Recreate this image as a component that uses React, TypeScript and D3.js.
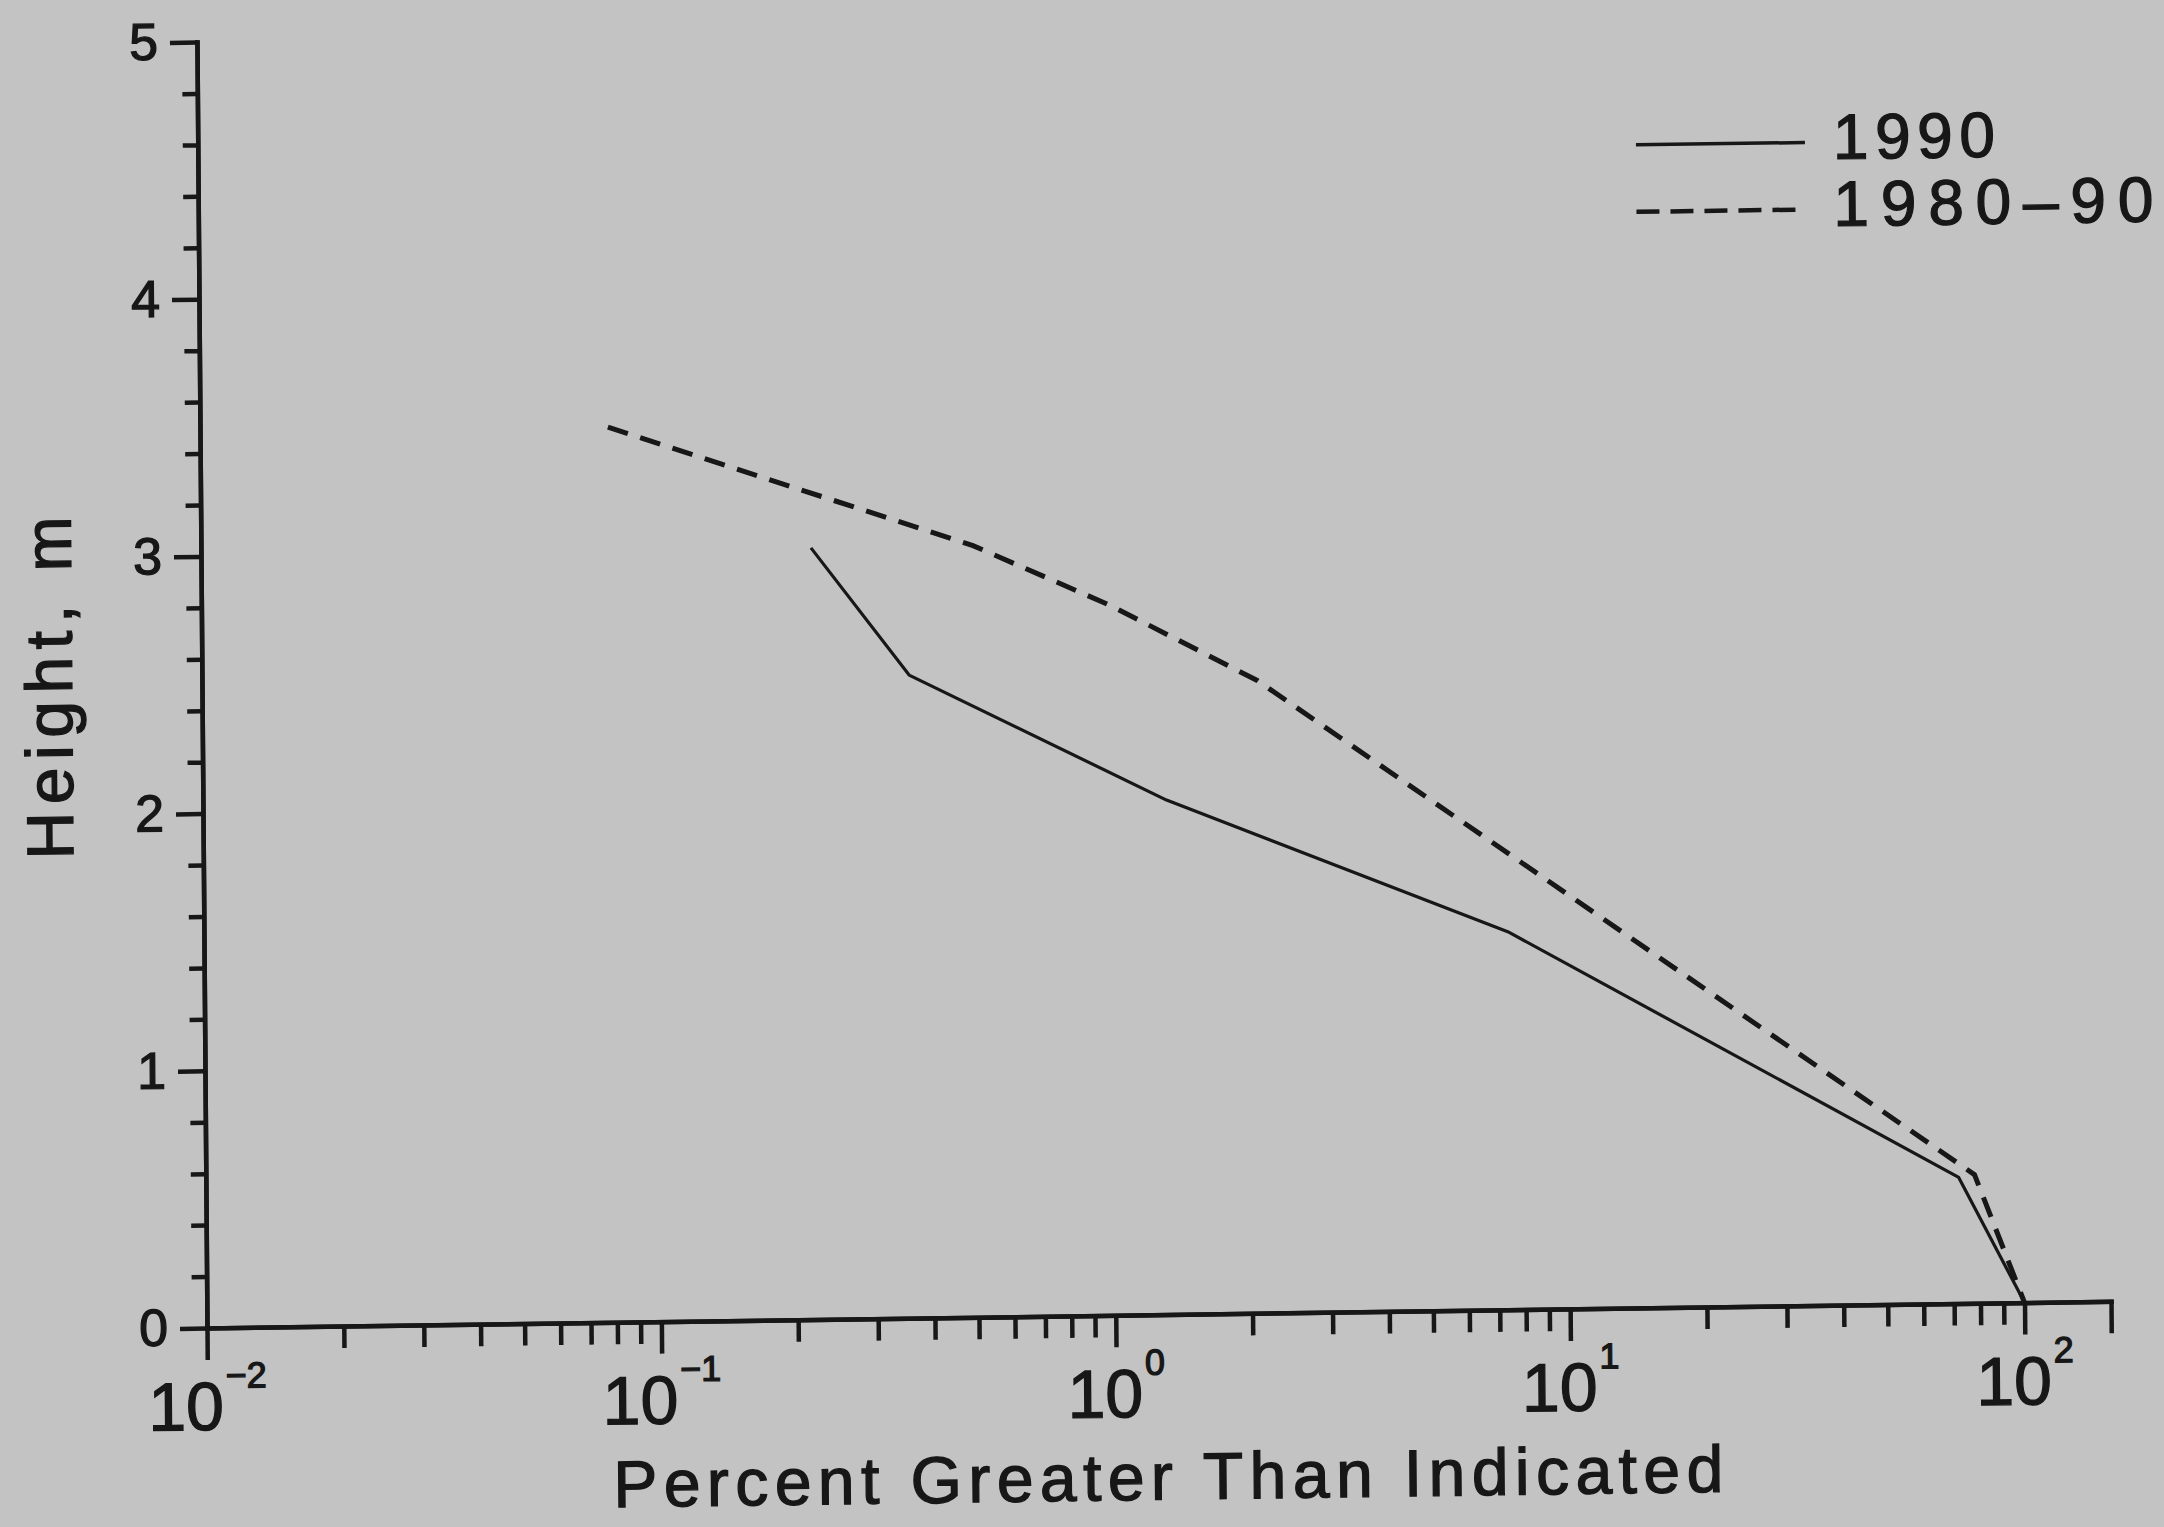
import { useEffect, useRef } from 'react'
import * as d3 from 'd3'

// 1990: percent of time height is exceeded (x) vs height in m (y)
const pct1990 = [0.22, 0.36, 1.32, 7.4, 72, 100]
const ht1990 = [3.0, 2.5, 2.0, 1.47, 0.49, 0]

// 1980-90
const pct8090 = [0.079, 0.5, 1.0, 2.1, 78, 100]
const ht8090 = [3.48, 3.0, 2.76, 2.46, 0.5, 0]

const xExponents = [-2, -1, 0, 1, 2]
const yTicks = [0, 1, 2, 3, 4, 5]
const legendLabels = ['1990', '1980–90']

const App = () => {
	const svgRef = useRef(null)

	useEffect(() => {
		const width = 2164
		const height = 1527
		const ink = '#171717'
		const font = '"Liberation Sans", Arial, sans-serif'

		const svg = d3.select(svgRef.current)
		svg.selectAll('*').remove()
		svg.attr('width', width).attr('height', height)

		svg.append('rect').attr('width', width).attr('height', height).attr('fill', '#c3c3c3')

		// the scanned figure sits a little skewed on the page
		const g = svg
			.append('g')
			.attr('transform', 'matrix(1,-0.014,0.0078,1,207,1328)')
			.attr('font-family', font)
			.attr('fill', ink)

		// heavier strokes on the lettering, like the plotter font
		const heavy = (sel) => sel.attr('stroke', ink).attr('stroke-width', 1.3)

		// Scales
		const x = d3.scaleLog().domain([0.01, 155]).range([0, 1904])
		const y = d3.scaleLinear().domain([0, 5]).range([0, -1286])

		const styleAxis = (sel, w) => {
			sel.selectAll('line, path').attr('stroke', ink).attr('stroke-width', w)
			sel.select('.domain').attr('stroke-linecap', 'square')
		}

		// Y axis: minor ticks every 0.2, major on integers
		const yMinor = d3.range(26).map((i) => i / 5).filter((v) => !Number.isInteger(v))
		g.append('g')
			.call(d3.axisLeft(y).tickValues(yMinor).tickSize(15).tickSizeOuter(0).tickFormat(() => ''))
			.call((s) => styleAxis(s, 4.5))
		g.append('g')
			.call(
				d3
					.axisLeft(y)
					.tickValues(yTicks)
					.tickSize(27)
					.tickSizeOuter(0)
					.tickPadding(12)
					.tickFormat(d3.format('d'))
			)
			.call((s) => styleAxis(s, 4.5))
			.selectAll('text')
			.attr('font-size', 52)
			.attr('font-family', font)
			.attr('fill', ink)
			.call(heavy)

		// X axis: decades, 2..9 minors, and the closing tick
		const xMinor = []
		xExponents.slice(0, -1).forEach((e) => {
			for (let k = 2; k <= 9; k++) xMinor.push(k * 10 ** e)
		})
		g.append('g')
			.call(d3.axisBottom(x).tickValues(xMinor).tickSize(22).tickSizeOuter(0).tickFormat(() => ''))
			.call((s) => styleAxis(s, 4.5))
		g.append('g')
			.call(
				d3
					.axisBottom(x)
					.tickValues([...xExponents.map((e) => 10 ** e), x.domain()[1]])
					.tickSize(32)
					.tickSizeOuter(0)
					.tickFormat(() => '')
			)
			.call((s) => styleAxis(s, 4.5))

		// decade labels with superscript exponents
		const xl = g
			.append('g')
			.selectAll('text')
			.data(xExponents)
			.join('text')
			.attr('x', (e) => x(10 ** e))
			.attr('y', 102)
			.attr('text-anchor', 'middle')
			.attr('font-size', 68)
			.call(heavy)
		xl.append('tspan').text('10')
		xl.append('tspan')
			.attr('dx', 2)
			.attr('dy', -42)
			.attr('font-size', 36)
			.text((e) => (e < 0 ? '−' + Math.abs(e) : String(e)))

		// Lines
		const line = d3
			.line()
			.x((d) => x(d[0]))
			.y((d) => y(d[1]))

		g.append('path')
			.datum(d3.zip(pct1990, ht1990))
			.attr('d', line)
			.attr('fill', 'none')
			.attr('stroke', ink)
			.attr('stroke-width', 3.2)
			.attr('stroke-linejoin', 'round')

		g.append('path')
			.datum(d3.zip(pct8090, ht8090))
			.attr('d', line)
			.attr('fill', 'none')
			.attr('stroke', ink)
			.attr('stroke-width', 5)
			.attr('stroke-dasharray', '21 13')

		// Axis titles
		g.append('text')
			.attr('x', 960)
			.attr('y', 185)
			.attr('text-anchor', 'middle')
			.attr('font-size', 66)
			.attr('textLength', 1110)
			.attr('lengthAdjust', 'spacing')
			.call(heavy)
			.text('Percent Greater Than Indicated')

		g.append('text')
			.attr('transform', 'translate(-130,-642) rotate(-90)')
			.attr('text-anchor', 'middle')
			.attr('font-size', 66)
			.attr('textLength', 343)
			.attr('lengthAdjust', 'spacing')
			.call(heavy)
			.text('Height, m')

		// Legend
		const legend = g.append('g').attr('transform', 'translate(1438,-1163)')
		legend
			.append('line')
			.attr('x1', 0)
			.attr('x2', 169)
			.attr('stroke', ink)
			.attr('stroke-width', 3.5)
		legend
			.append('line')
			.attr('x1', 0)
			.attr('x2', 160)
			.attr('y1', 67)
			.attr('y2', 67)
			.attr('stroke', ink)
			.attr('stroke-width', 4.5)
			.attr('stroke-dasharray', '23 11')
		legend
			.selectAll('text')
			.data(legendLabels)
			.join('text')
			.attr('x', 197)
			.attr('y', (d, i) => 17 + i * 67)
			.attr('font-size', 64)
			.attr('textLength', (d, i) => (i === 0 ? 162 : 320))
			.attr('lengthAdjust', 'spacing')
			.call(heavy)
			.text((d) => d)
	}, [])

	return <svg ref={svgRef} style={{ position: 'absolute', left: 0, top: 0, display: 'block' }}></svg>
}

export default App
